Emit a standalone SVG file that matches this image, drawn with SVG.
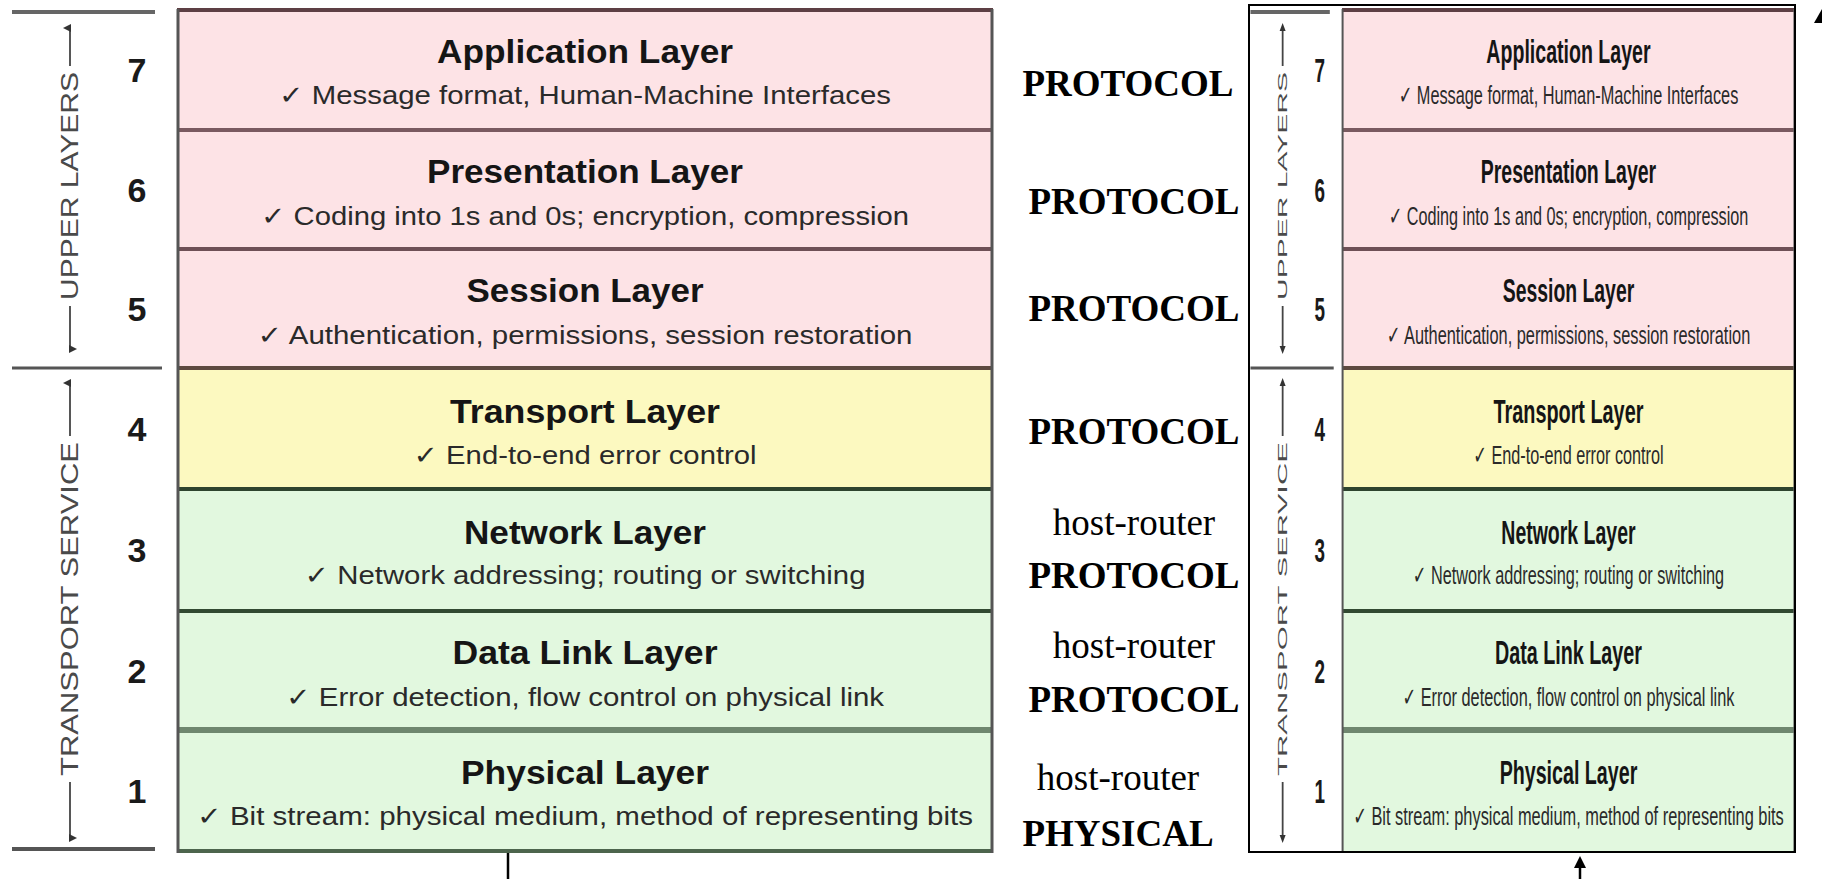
<svg xmlns="http://www.w3.org/2000/svg" width="1822" height="879" viewBox="0 0 1822 879">
<style>
.pink{fill:#fde3e6}
.yel{fill:#fcf9c0}
.grn{fill:#e2f8df}
.t{font-family:"Liberation Sans",Arial,sans-serif;font-weight:bold;font-size:34px;fill:#151515;text-anchor:middle}
.s{font-family:"Liberation Sans","DejaVu Sans",Arial,sans-serif;font-size:26px;fill:#2a2a2a;text-anchor:middle}
.n{font-family:"Liberation Sans",Arial,sans-serif;font-weight:bold;font-size:34px;fill:#1a1a1a;text-anchor:middle}
.v{font-family:"Liberation Sans",Arial,sans-serif;font-size:23px;fill:#4a4a4a;text-anchor:middle}
.va{stroke:#444;stroke-width:1.8;fill:none}
.p{font-family:"Liberation Serif","Times New Roman",serif;font-weight:bold;font-size:37px;fill:#000;text-anchor:middle}
.h{font-family:"Liberation Serif","Times New Roman",serif;font-size:37px;fill:#000;text-anchor:middle}
.ns{vector-effect:non-scaling-stroke}
</style>
<defs>
<marker id="ah" markerWidth="8" markerHeight="8" refX="4" refY="7" orient="auto-start-reverse" markerUnits="userSpaceOnUse" viewBox="0 0 8 8">
<path d="M0,0 L8,0 L4,8 Z" fill="#333" transform="rotate(180 4 4)"/>
</marker>
</defs>
<rect width="1822" height="879" fill="#fff"/>

<g id="left-stack">
  <g id="left-side">
    <line x1="12" y1="12" x2="155" y2="12" stroke="#666" stroke-width="4"/>
    <line x1="12" y1="368" x2="162" y2="368" stroke="#555" stroke-width="3"/>
    <line x1="12" y1="849" x2="155" y2="849" stroke="#555" stroke-width="4"/>
    <line class="va" x1="70" y1="66" x2="70" y2="28" marker-end="url(#ah)"/>
    <line class="va" x1="70" y1="306" x2="70" y2="349" marker-end="url(#ah)"/>
    <text class="v" transform="translate(78,186) rotate(-90)" textLength="228" lengthAdjust="spacingAndGlyphs">UPPER LAYERS</text>
    <line class="va" x1="70" y1="436" x2="70" y2="383" marker-end="url(#ah)"/>
    <line class="va" x1="70" y1="782" x2="70" y2="838" marker-end="url(#ah)"/>
    <text class="v" transform="translate(78,609) rotate(-90)" textLength="334" lengthAdjust="spacingAndGlyphs">TRANSPORT SERVICE</text>
    <text class="n" x="137" y="82">7</text>
    <text class="n" x="137" y="202">6</text>
    <text class="n" x="137" y="321">5</text>
    <text class="n" x="137" y="441">4</text>
    <text class="n" x="137" y="562">3</text>
    <text class="n" x="137" y="683">2</text>
    <text class="n" x="137" y="803">1</text>
  </g>
  <g id="L7"><rect class="pink" x="177" y="9" width="816" height="121"/>
    <text class="t" x="585" y="63" textLength="296" lengthAdjust="spacingAndGlyphs">Application Layer</text>
    <text class="s" x="585" y="104" textLength="612" lengthAdjust="spacingAndGlyphs">✓ Message format, Human-Machine Interfaces</text></g>
  <g id="L6"><rect class="pink" x="177" y="130" width="816" height="119"/>
    <text class="t" x="585" y="183" textLength="316" lengthAdjust="spacingAndGlyphs">Presentation Layer</text>
    <text class="s" x="585" y="225" textLength="648" lengthAdjust="spacingAndGlyphs">✓ Coding into 1s and 0s; encryption, compression</text></g>
  <g id="L5"><rect class="pink" x="177" y="249" width="816" height="119"/>
    <text class="t" x="585" y="302" textLength="237" lengthAdjust="spacingAndGlyphs">Session Layer</text>
    <text class="s" x="585" y="344" textLength="655" lengthAdjust="spacingAndGlyphs">✓ Authentication, permissions, session restoration</text></g>
  <g id="L4"><rect class="yel" x="177" y="368" width="816" height="121"/>
    <text class="t" x="585" y="423" textLength="270" lengthAdjust="spacingAndGlyphs">Transport Layer</text>
    <text class="s" x="585" y="464" textLength="343" lengthAdjust="spacingAndGlyphs">✓ End-to-end error control</text></g>
  <g id="L3"><rect class="grn" x="177" y="489" width="816" height="122"/>
    <text class="t" x="585" y="544" textLength="242" lengthAdjust="spacingAndGlyphs">Network Layer</text>
    <text class="s" x="585" y="584" textLength="561" lengthAdjust="spacingAndGlyphs">✓ Network addressing; routing or switching</text></g>
  <g id="L2"><rect class="grn" x="177" y="611" width="816" height="119"/>
    <text class="t" x="585" y="664" textLength="265" lengthAdjust="spacingAndGlyphs">Data Link Layer</text>
    <text class="s" x="585" y="706" textLength="598" lengthAdjust="spacingAndGlyphs">✓ Error detection, flow control on physical link</text></g>
  <g id="L1"><rect class="grn" x="177" y="730" width="816" height="122"/>
    <text class="t" x="585" y="784" textLength="248" lengthAdjust="spacingAndGlyphs">Physical Layer</text>
    <text class="s" x="585" y="825" textLength="776" lengthAdjust="spacingAndGlyphs">✓ Bit stream: physical medium, method of representing bits</text></g>
  <g id="left-rules">
    <line x1="177" y1="10" x2="993" y2="10" stroke="#5d3f44" stroke-width="4"/>
    <line x1="177" y1="130" x2="993" y2="130" stroke="#7a5a60" stroke-width="4"/>
    <line x1="177" y1="249" x2="993" y2="249" stroke="#6e5056" stroke-width="4"/>
    <line x1="177" y1="368" x2="993" y2="368" stroke="#5e4a40" stroke-width="4"/>
    <line x1="177" y1="489" x2="993" y2="489" stroke="#2e442e" stroke-width="4"/>
    <line x1="177" y1="611" x2="993" y2="611" stroke="#324a32" stroke-width="4"/>
    <line x1="177" y1="730" x2="993" y2="730" stroke="#6f876f" stroke-width="6"/>
    <line x1="177" y1="851" x2="993" y2="851" stroke="#4d654d" stroke-width="4"/>
    <line x1="178" y1="9" x2="178" y2="853" stroke="#555" stroke-width="3"/>
    <line x1="992" y1="9" x2="992" y2="853" stroke="#555" stroke-width="3"/>
  </g>
</g>

<g id="labels">
  <text class="p" x="1128" y="96">PROTOCOL</text>
  <text class="p" x="1134" y="214">PROTOCOL</text>
  <text class="p" x="1134" y="321">PROTOCOL</text>
  <text class="p" x="1134" y="444">PROTOCOL</text>
  <text class="h" x="1134" y="535">host-router</text>
  <text class="p" x="1134" y="588">PROTOCOL</text>
  <text class="h" x="1134" y="658">host-router</text>
  <text class="p" x="1134" y="712">PROTOCOL</text>
  <text class="h" x="1118" y="790">host-router</text>
  <text class="p" x="1118" y="846">PHYSICAL</text>
</g>

<g id="right-stack">
  <rect x="1249" y="5" width="546" height="847" fill="#fff" stroke="#000" stroke-width="2"/>
  <g transform="matrix(0.555,0,0,1,1243.8,0)">
  <g id="right-side">
    <line class="ns" x1="12" y1="12" x2="155" y2="12" stroke="#666" stroke-width="4"/>
    <line class="ns" x1="12" y1="368" x2="162" y2="368" stroke="#555" stroke-width="3"/>
    <line class="va ns" x1="70" y1="66" x2="70" y2="28"/>
    <line class="va ns" x1="70" y1="306" x2="70" y2="349"/>
    <text class="v" transform="translate(78,186) rotate(-90)" textLength="228" lengthAdjust="spacingAndGlyphs">UPPER LAYERS</text>
    <line class="va ns" x1="70" y1="436" x2="70" y2="383"/>
    <line class="va ns" x1="70" y1="782" x2="70" y2="838"/>
    <text class="v" transform="translate(78,609) rotate(-90)" textLength="334" lengthAdjust="spacingAndGlyphs">TRANSPORT SERVICE</text>
    <text class="n" x="137" y="82">7</text>
    <text class="n" x="137" y="202">6</text>
    <text class="n" x="137" y="321">5</text>
    <text class="n" x="137" y="441">4</text>
    <text class="n" x="137" y="562">3</text>
    <text class="n" x="137" y="683">2</text>
    <text class="n" x="137" y="803">1</text>
  </g>
  <g id="R7"><rect class="pink" x="177" y="9" width="816" height="121"/>
    <text class="t" x="585" y="63" textLength="296" lengthAdjust="spacingAndGlyphs">Application Layer</text>
    <text class="s" x="585" y="104" textLength="612" lengthAdjust="spacingAndGlyphs">✓ Message format, Human-Machine Interfaces</text></g>
  <g id="R6"><rect class="pink" x="177" y="130" width="816" height="119"/>
    <text class="t" x="585" y="183" textLength="316" lengthAdjust="spacingAndGlyphs">Presentation Layer</text>
    <text class="s" x="585" y="225" textLength="648" lengthAdjust="spacingAndGlyphs">✓ Coding into 1s and 0s; encryption, compression</text></g>
  <g id="R5"><rect class="pink" x="177" y="249" width="816" height="119"/>
    <text class="t" x="585" y="302" textLength="237" lengthAdjust="spacingAndGlyphs">Session Layer</text>
    <text class="s" x="585" y="344" textLength="655" lengthAdjust="spacingAndGlyphs">✓ Authentication, permissions, session restoration</text></g>
  <g id="R4"><rect class="yel" x="177" y="368" width="816" height="121"/>
    <text class="t" x="585" y="423" textLength="270" lengthAdjust="spacingAndGlyphs">Transport Layer</text>
    <text class="s" x="585" y="464" textLength="343" lengthAdjust="spacingAndGlyphs">✓ End-to-end error control</text></g>
  <g id="R3"><rect class="grn" x="177" y="489" width="816" height="122"/>
    <text class="t" x="585" y="544" textLength="242" lengthAdjust="spacingAndGlyphs">Network Layer</text>
    <text class="s" x="585" y="584" textLength="561" lengthAdjust="spacingAndGlyphs">✓ Network addressing; routing or switching</text></g>
  <g id="R2"><rect class="grn" x="177" y="611" width="816" height="119"/>
    <text class="t" x="585" y="664" textLength="265" lengthAdjust="spacingAndGlyphs">Data Link Layer</text>
    <text class="s" x="585" y="706" textLength="598" lengthAdjust="spacingAndGlyphs">✓ Error detection, flow control on physical link</text></g>
  <g id="R1"><rect class="grn" x="177" y="730" width="816" height="122"/>
    <text class="t" x="585" y="784" textLength="248" lengthAdjust="spacingAndGlyphs">Physical Layer</text>
    <text class="s" x="585" y="825" textLength="776" lengthAdjust="spacingAndGlyphs">✓ Bit stream: physical medium, method of representing bits</text></g>
  <g id="right-rules">
    <line x1="177" y1="10" x2="993" y2="10" stroke="#5d3f44" stroke-width="4"/>
    <line x1="177" y1="130" x2="993" y2="130" stroke="#7a5a60" stroke-width="4"/>
    <line x1="177" y1="249" x2="993" y2="249" stroke="#6e5056" stroke-width="4"/>
    <line x1="177" y1="368" x2="993" y2="368" stroke="#5e4a40" stroke-width="4"/>
    <line x1="177" y1="489" x2="993" y2="489" stroke="#2e442e" stroke-width="4"/>
    <line x1="177" y1="611" x2="993" y2="611" stroke="#324a32" stroke-width="4"/>
    <line x1="177" y1="730" x2="993" y2="730" stroke="#6f876f" stroke-width="6"/>
    <line class="ns" x1="178" y1="9" x2="178" y2="852" stroke="#555" stroke-width="2"/>
    <line class="ns" x1="992" y1="9" x2="992" y2="852" stroke="#666" stroke-width="2"/>
  </g>
  </g>
  <g id="right-arrowheads" fill="#333">
    <path d="M1282.6,23 L1279.6,31 L1285.6,31 Z"/>
    <path d="M1282.6,354 L1279.6,346 L1285.6,346 Z"/>
    <path d="M1282.6,378 L1279.6,386 L1285.6,386 Z"/>
    <path d="M1282.6,843 L1279.6,835 L1285.6,835 Z"/>
  </g>
  <rect x="1249" y="5" width="546" height="847" fill="none" stroke="#000" stroke-width="2"/>
</g>

<g id="connectors" stroke="#000" stroke-width="2.5" fill="#000">
  <line x1="508" y1="853" x2="508" y2="879"/>
  <line x1="1580" y1="866" x2="1580" y2="879"/>
  <path d="M1580,856 L1574,868 L1586,868 Z" stroke="none"/>
  <path d="M1822,9 L1814,23 L1830,23 Z" stroke="none"/>
</g>
</svg>
